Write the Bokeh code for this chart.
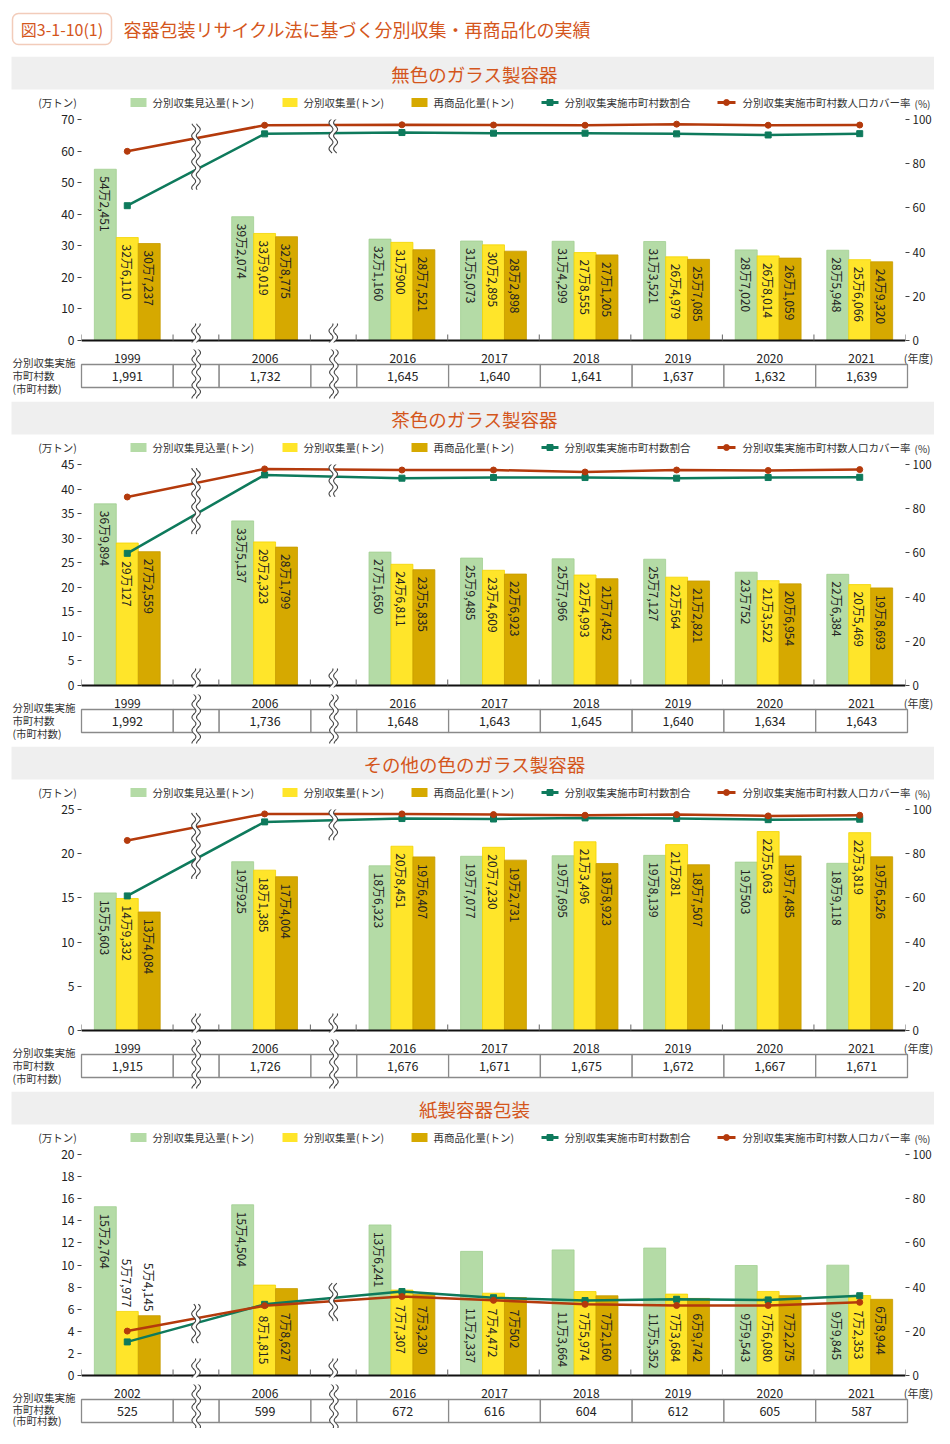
import math
import numpy as np
from bokeh.plotting import figure
from bokeh.layouts import column
from bokeh.models import (Range1d, LinearAxis, FixedTicker, ColumnDataSource, BoxAnnotation)
from bokeh.core.properties import value
from bokeh.embed import file_html
from bokeh.resources import INLINE

# ---------------- data ----------------
FIG_TITLE_NO = "図3-1-10(1)"
FIG_TITLE = "容器包装リサイクル法に基づく分別収集・再商品化の実績"
LEG_EXP = "分別収集見込量(トン)"
LEG_COL = "分別収集量(トン)"
LEG_REC = "再商品化量(トン)"
LEG_RATIO = "分別収集実施市町村数割合"
LEG_COVER = "分別収集実施市町村数人口カバー率"
Y_UNIT_L = "(万トン)"
Y_UNIT_R = "(%)"
X_UNIT = "(年度)"
ROW_LABEL = ["分別収集実施", "市町村数", "(市町村数)"]

years_glass = ["1999", "2006", "2016", "2017", "2018", "2019", "2020", "2021"]
years_paper = ["2002", "2006", "2016", "2017", "2018", "2019", "2020", "2021"]

# 無色のガラス製容器
p1_title = "無色のガラス製容器"
p1_expected = [542451, 392074, 321160, 315073, 314299, 313521, 287020, 285948]
p1_collected = [326110, 339019, 310900, 302895, 278555, 264979, 268014, 256066]
p1_recycled = [307237, 328775, 287521, 282898, 271205, 257085, 261059, 249320]
p1_ratio = [61.0, 93.5, 94.1, 93.8, 93.8, 93.5, 93.0, 93.6]
p1_cover = [85.6, 97.4, 97.6, 97.5, 97.4, 97.9, 97.4, 97.5]
p1_munis = [1991, 1732, 1645, 1640, 1641, 1637, 1632, 1639]

# 茶色のガラス製容器
p2_title = "茶色のガラス製容器"
p2_expected = [369894, 335137, 271650, 259485, 257966, 257127, 230752, 226384]
p2_collected = [290127, 292323, 246811, 234609, 224993, 220564, 213522, 205469]
p2_recycled = [272559, 281799, 235835, 226923, 217452, 212821, 206954, 198693]
p2_ratio = [59.8, 95.3, 93.8, 94.1, 94.1, 93.8, 94.1, 94.2]
p2_cover = [85.3, 98.0, 97.5, 97.5, 96.6, 97.5, 97.3, 97.7]
p2_munis = [1992, 1736, 1648, 1643, 1645, 1640, 1634, 1643]

# その他の色のガラス製容器
p3_title = "その他の色のガラス製容器"
p3_expected = [155603, 190925, 186323, 197077, 197695, 198139, 190503, 189118]
p3_collected = [149332, 181385, 208451, 207230, 213496, 210281, 225063, 223819]
p3_recycled = [134084, 174004, 196407, 192731, 188923, 187507, 197485, 196526]
p3_ratio = [60.9, 94.4, 95.9, 95.7, 96.2, 95.9, 95.4, 95.6]
p3_cover = [86.0, 98.0, 98.0, 97.7, 97.4, 97.7, 97.1, 97.4]
p3_munis = [1915, 1726, 1676, 1671, 1675, 1672, 1667, 1671]

# 紙製容器包装
p4_title = "紙製容器包装"
p4_expected = [152764, 154504, 136241, 112337, 113664, 115352, 99543, 99845]
p4_collected = [57977, 81815, 77307, 74472, 75974, 73684, 76080, 72353]
p4_recycled = [54145, 78627, 73230, 70502, 72160, 69742, 72275, 68944]
p4_ratio = [15.2, 32.2, 38.0, 35.2, 33.9, 34.5, 34.2, 36.1]
p4_cover = [20.1, 31.6, 35.7, 34.0, 32.2, 31.7, 31.7, 33.1]
p4_munis = [525, 599, 672, 616, 604, 612, 605, 587]

# ---------------- style / layout ----------------
FONT = "Noto Sans CJK JP"
ORANGE = "#d4561c"
C_EXP, C_EXP_L = "#b4dba6", "#a2cf92"
C_COL, C_COL_L = "#ffe52a", "#f2d400"
C_REC, C_REC_L = "#d6a900", "#c89c00"
C_RATIO = "#0e7a5c"
C_COVER = "#b43a0c"
TXT = "#222222"
BRK = "#444444"

W = 934
FRAME_L, FRAME_R = 81, 27
FRAME_W = W - FRAME_L - FRAME_R
FH = 221            # px from 0 to the top tick
EXT = 2             # frame extends this many px below zero (room for the base line)
MAIN_TOP = 9
MAIN_BOT = 7
MAIN_H = MAIN_TOP + FH + EXT + MAIN_BOT
TOP_H = 56
HEAD_H = 54
PANEL_H = 345
TABLE_H = PANEL_H - HEAD_H - MAIN_H
TOTAL_H = 1428

# slot layout: full slots for years, half-width gaps for the two axis breaks
SLOTS = [1, 0.5, 1, 0.5, 1, 1, 1, 1, 1, 1]
IS_GAP = [False, True, False, True, False, False, False, False, False, False]
edges = [0.0]
for s in SLOTS:
    edges.append(edges[-1] + s)
NX = edges[-1]
centers = [(edges[i] + edges[i + 1]) / 2 for i in range(len(SLOTS)) if not IS_GAP[i]]
break_x = [(edges[i] + edges[i + 1]) / 2 for i in range(len(SLOTS)) if IS_GAP[i]]
UX = FRAME_W / NX
BW = 22.0 / UX


def fmt_ton(v):
    m, r = divmod(v, 10000)
    return f"{m}万{r:,}" if r else f"{m}万"


def text_len_px(s, fs=12.0):
    w = 0.0
    for ch in s:
        if ch.isdigit():
            w += 0.56 * fs
        elif ch == ",":
            w += 0.28 * fs
        else:
            w += fs
    return w


def wave(xb, lo_px, hi_px, dx_px):
    t = np.arange(lo_px, hi_px + 0.01, 1.0)
    xo = 2.0 * np.sin(2 * np.pi * t / 13.0)
    return list(xb + (dx_px + xo) / UX), list(t)


def draw_break(p, xb, lo, hi, yconv):
    lx, ly = wave(xb, lo, hi, -2.3)
    rx, ry = wave(xb, lo, hi, 2.3)
    p.patch(x=lx + rx[::-1], y=[yconv(t) for t in ly + ry[::-1]], fill_color="white",
            line_color=None)
    p.line(x=lx, y=[yconv(t) for t in ly], line_color=BRK, line_width=1.1)
    p.line(x=rx, y=[yconv(t) for t in ry], line_color=BRK, line_width=1.1)


def style_yaxis(ax, fs):
    ax.axis_line_color = None
    ax.major_tick_in = 0
    ax.major_tick_out = 4
    ax.minor_tick_in = 0
    ax.minor_tick_out = 0
    ax.major_tick_line_color = "#444444"
    ax.major_label_text_font = FONT
    ax.major_label_text_font_size = fs
    ax.major_label_text_color = TXT
    ax.major_label_standoff = 3


def plain_fig(h, xr, yr):
    p = figure(width=W, height=h, x_range=xr, y_range=yr,
               x_axis_type=None, y_axis_type=None, toolbar_location=None,
               output_backend="svg", min_border=0, frame_align=False)
    p.outline_line_color = None
    return p


def top_fig():
    h = TOP_H
    p = plain_fig(h, Range1d(0, W), Range1d(h, 0))
    p.add_layout(BoxAnnotation(left=12, right=111, top=13, bottom=44, fill_color="white",
                               line_color=ORANGE, line_width=1.5, border_radius=6,
                               level="underlay"))
    p.text(x=[61.5], y=[28.5], text=[FIG_TITLE_NO], text_align="center",
           text_baseline="middle", text_font=value(FONT), text_font_size="16px",
           text_color=ORANGE)
    p.text(x=[123], y=[28.5], text=[FIG_TITLE], text_align="left", text_baseline="middle",
           text_font=value(FONT), text_font_size="18px", text_color=ORANGE)
    return p


def header_fig(title):
    h = HEAD_H
    p = plain_fig(h, Range1d(0, W), Range1d(h, 0))
    p.quad(left=[11], right=[W], top=[0], bottom=[33], fill_color="#efefef", line_color=None)
    p.text(x=[474], y=[17], text=[title], text_align="center", text_baseline="middle",
           text_font=value(FONT), text_font_size="18.5px", text_color=ORANGE)
    ly = 46
    kw = dict(text_baseline="middle", text_font=value(FONT), text_font_size="10.5px",
              text_color="#333333")
    p.text(x=[57], y=[ly], text=[Y_UNIT_L], text_align="center", **kw)
    p.quad(left=[130, 282, 411], right=[146, 297, 427], top=[ly - 4.5] * 3,
           bottom=[ly + 4.5] * 3, fill_color=[C_EXP, C_COL, C_REC], line_color=None)
    p.text(x=[152, 303, 433, 564, 742], y=[ly] * 5,
           text=[LEG_EXP, LEG_COL, LEG_REC, LEG_RATIO, LEG_COVER], text_align="left", **kw)
    p.line(x=[541, 558], y=[ly, ly], line_color=C_RATIO, line_width=3)
    p.scatter(x=[549.5], y=[ly], marker="square", size=6, fill_color=C_RATIO,
              line_color=C_RATIO)
    p.line(x=[717, 735], y=[ly, ly], line_color=C_COVER, line_width=3)
    p.scatter(x=[726], y=[ly], marker="circle", size=6, fill_color=C_COVER,
              line_color=C_COVER)
    p.text(x=[922], y=[46.5], text=[Y_UNIT_R], text_align="center", text_baseline="middle",
           text_font=value(FONT), text_font_size="10px", text_color="#333333")
    return p


def main_fig(exp, col, rec, ratio, cover, ymax, ystep):
    ppu = FH / ymax  # px per left unit
    p = figure(width=W, height=MAIN_H, x_range=Range1d(0, NX),
               y_range=Range1d(-EXT / ppu, ymax),
               toolbar_location=None, output_backend="svg", frame_align=False,
               min_border_left=FRAME_L, min_border_right=FRAME_R,
               min_border_top=MAIN_TOP, min_border_bottom=MAIN_BOT)
    p.outline_line_color = None
    p.xgrid.visible = False
    p.ygrid.visible = False
    p.xaxis.visible = False
    p.extra_y_ranges = {"pct": Range1d(-EXT * 100.0 / FH, 100)}

    # value axes (left: 万トン, right: %)
    yl = p.yaxis[0]
    yl.ticker = FixedTicker(ticks=list(range(0, ymax + 1, ystep)))
    style_yaxis(yl, "12px")
    yr = LinearAxis(y_range_name="pct", ticker=FixedTicker(ticks=[0, 20, 40, 60, 80, 100]))
    style_yaxis(yr, "11.5px")
    p.add_layout(yr, "right")

    # bars
    series = [(exp, -BW, C_EXP, C_EXP_L), (col, 0.0, C_COL, C_COL_L), (rec, BW, C_REC, C_REC_L)]
    for vals, off, fc, lc in series:
        p.vbar(x=[c + off for c in centers], top=[v / 10000 for v in vals], width=BW,
               fill_color=fc, line_color=lc, line_width=0.8)

    # base line and category separator ticks
    p.segment(x0=[0], y0=[0], x1=[NX], y1=[0], line_color="#111111", line_width=2)
    p.segment(x0=edges, y0=[0] * len(edges), x1=edges, y1=[6 / ppu] * len(edges),
              line_color="#666666", line_width=1)

    # bar labels (placed so they avoid the two lines)
    def line_px_range(x0, x1):
        xs = np.linspace(x0, x1, 9)
        xs = xs[(xs >= centers[0]) & (xs <= centers[-1])]
        if len(xs) == 0:
            return None
        v = []
        for ln in (ratio, cover):
            v += list(np.interp(xs, centers, ln) * FH / 100.0)
        return min(v), max(v)

    lab_down = {"x": [], "y": [], "t": []}
    lab_up = {"x": [], "y": [], "t": []}
    PAD, GAP = 7, 8
    for vals, off, fc, lc in series:
        for c, v in zip(centers, vals):
            bx = c + off
            s = fmt_ton(v)
            L = text_len_px(s)
            top_px = v / 10000 * ppu
            rng = line_px_range(bx - BW / 2, bx + BW / 2)
            if rng is None or rng[0] >= top_px or top_px - PAD - L >= rng[1] + 4:
                lab_down["x"].append(bx); lab_down["y"].append((top_px - PAD) / ppu); lab_down["t"].append(s)
            else:
                cand = rng[0] - GAP
                if cand - L >= 2:
                    lab_down["x"].append(bx); lab_down["y"].append(min(cand, top_px - PAD) / ppu); lab_down["t"].append(s)
                else:
                    lab_up["x"].append(bx); lab_up["y"].append((top_px + 4) / ppu); lab_up["t"].append(s)
    tkw = dict(angle=-math.pi / 2, text_baseline="middle", text_font=value(FONT),
               text_font_size="12px", text_color=TXT)
    p.text(x="x", y="y", text="t", source=ColumnDataSource(lab_down), text_align="left", **tkw)
    if lab_up["x"]:
        p.text(x="x", y="y", text="t", source=ColumnDataSource(lab_up), text_align="right", **tkw)

    # lines
    p.line(x=centers, y=ratio, y_range_name="pct", line_color=C_RATIO, line_width=2.5)
    p.scatter(x=centers, y=ratio, y_range_name="pct", marker="square", size=6,
              fill_color=C_RATIO, line_color=C_RATIO)
    p.line(x=centers, y=cover, y_range_name="pct", line_color=C_COVER, line_width=2.5)
    p.scatter(x=centers, y=cover, y_range_name="pct", marker="circle", size=6,
              fill_color=C_COVER, line_color=C_COVER)

    # axis-break marks: over the lines and across the base line
    conv = lambda t: t / ppu
    for xb in break_x:
        pv = [np.interp(xb, centers, ln) * FH / 100.0 for ln in (ratio, cover)]
        hi = min(max(pv) + 15, FH + 3)
        lo = min(pv) - 20
        draw_break(p, xb, lo, hi, conv)
        draw_break(p, xb, -EXT - 2, 17, conv)
    return p


def table_fig(cats, munis, h, row_y):
    x0 = -FRAME_L / UX
    x1 = NX + FRAME_R / UX
    p = plain_fig(h, Range1d(x0, x1), Range1d(h, 0))
    # category labels of the x axis and its unit
    p.text(x=centers, y=[8.8] * len(centers), text=cats, text_align="center",
           text_baseline="middle", text_font=value(FONT), text_font_size="12px",
           text_color=TXT)
    p.text(x=[NX + 11 / UX], y=[8.5], text=[X_UNIT], text_align="center",
           text_baseline="middle", text_font=value(FONT), text_font_size="11px",
           text_color="#333333")
    # municipality count row
    p.quad(left=edges[:-1], right=edges[1:], top=[15] * len(SLOTS), bottom=[38] * len(SLOTS),
           fill_color="white", line_color="#8a8a8a", line_width=1.3)
    p.text(x=centers, y=[26.5] * len(centers), text=[f"{m:,}" for m in munis],
           text_align="center", text_baseline="middle", text_font=value(FONT),
           text_font_size="12.5px", text_color=TXT)
    p.text(x=[(12 - FRAME_L) / UX] * 3, y=row_y, text=ROW_LABEL,
           text_align="left", text_baseline="middle", text_font=value(FONT),
           text_font_size="10.5px", text_color="#333333")
    for xb in break_x:
        draw_break(p, xb, -1, min(49, h), lambda t: t)
    return p


panels = [
    (p1_title, years_glass, p1_expected, p1_collected, p1_recycled, p1_ratio, p1_cover, p1_munis, 70, 10),
    (p2_title, years_glass, p2_expected, p2_collected, p2_recycled, p2_ratio, p2_cover, p2_munis, 45, 5),
    (p3_title, years_glass, p3_expected, p3_collected, p3_recycled, p3_ratio, p3_cover, p3_munis, 25, 5),
    (p4_title, years_paper, p4_expected, p4_collected, p4_recycled, p4_ratio, p4_cover, p4_munis, 20, 2),
]

children = [top_fig()]
last_h = TOTAL_H - (TOP_H + 3 * PANEL_H + HEAD_H + MAIN_H)
for i, (title, cats, e, c, r, ra, co, mu, ymax, ystep) in enumerate(panels):
    children.append(header_fig(title))
    children.append(main_fig(e, c, r, ra, co, ymax, ystep))
    if i < len(panels) - 1:
        children.append(table_fig(cats, mu, TABLE_H, [13, 26, 39]))
    else:
        children.append(table_fig(cats, mu, last_h, [13, 25, last_h - 7.7]))

layout = column(children, spacing=0)
open("out.html", "w").write(file_html(layout, INLINE))
